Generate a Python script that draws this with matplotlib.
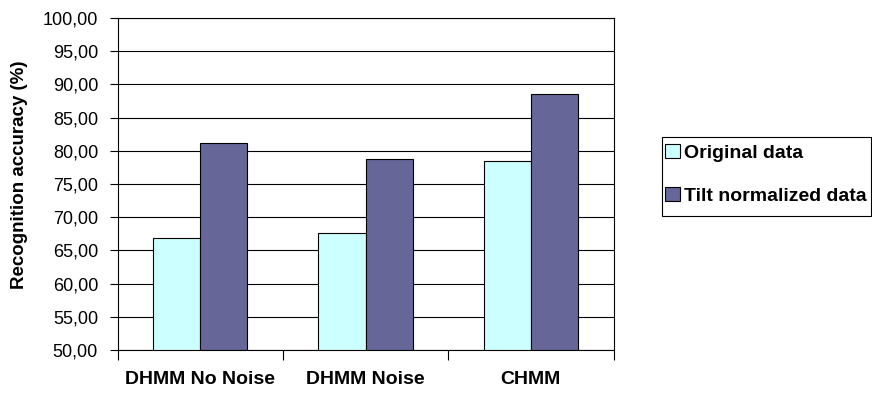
import matplotlib.pyplot as plt
import numpy as np
from matplotlib.patches import Rectangle
from matplotlib.ticker import FuncFormatter

categories = ['DHMM No Noise', 'DHMM Noise', 'CHMM']
original = [66.9, 67.6, 78.4]
tilt_normalized = [81.1, 78.7, 88.6]
series_labels = ['Original data', 'Tilt normalized data']

plt.rcParams['font.family'] = ['Liberation Sans', 'DejaVu Sans']

W, H = 872, 393
fig = plt.figure(figsize=(W / 100, H / 100), dpi=100)
ax = fig.add_axes([117.5 / W, 1 - 350 / H, 496 / W, 332 / H])

x = np.arange(len(categories))
w = 0.285
b1 = ax.bar(x - w / 2, original, width=w, color='#ccffff', edgecolor='black', linewidth=0.8, zorder=2)
b2 = ax.bar(x + w / 2, tilt_normalized, width=w, color='#666699', edgecolor='black', linewidth=0.8, zorder=2)

ax.set_xlim(-0.5, 2.5)
ax.set_ylim(50, 100)
ax.set_yticks(np.arange(50, 101, 5))
ax.yaxis.set_major_formatter(FuncFormatter(lambda v, p: f'{v:.2f}'.replace('.', ',')))
ax.yaxis.grid(True, color='black', linewidth=0.8, zorder=0)
ax.set_axisbelow(True)

# category ticks sit between the groups
ax.set_xticks([-0.5, 0.5, 1.5, 2.5])
ax.set_xticklabels([])
ax.set_xticks(x, minor=True)
ax.set_xticklabels(categories, minor=True, fontsize=14, fontweight='bold')
ax.tick_params(axis='x', which='minor', length=0, pad=15)
ax.tick_params(axis='x', which='major', direction='out', length=7, width=0.8)
ax.tick_params(axis='y', direction='out', length=6, width=0.8, labelsize=13, pad=8)

for s in ax.spines.values():
    s.set_linewidth(0.8)
    s.set_color('black')

ax.set_ylabel('Recognition accuracy (%)', fontsize=13.5, fontweight='bold')
ax.yaxis.set_label_coords(-0.18, 0.527)

# legend with its frame drawn separately
leg = fig.legend([b1, b2], series_labels, loc='upper left',
                 bbox_to_anchor=(665 / W, 1 - 144 / H), frameon=False, fontsize=14,
                 handlelength=0.75, handleheight=0.75, handletextpad=0.25,
                 labelspacing=1.3, borderpad=0, borderaxespad=0)
for t in leg.get_texts():
    t.set_fontweight('bold')
for h in leg.legend_handles:
    h.set_linewidth(0.8)
fig.patches.append(Rectangle((662 / W, 1 - 216 / H), 209 / W, 79 / H, transform=fig.transFigure,
                             fill=False, edgecolor='black', linewidth=0.8))

fig.savefig('out.png', dpi=100)
